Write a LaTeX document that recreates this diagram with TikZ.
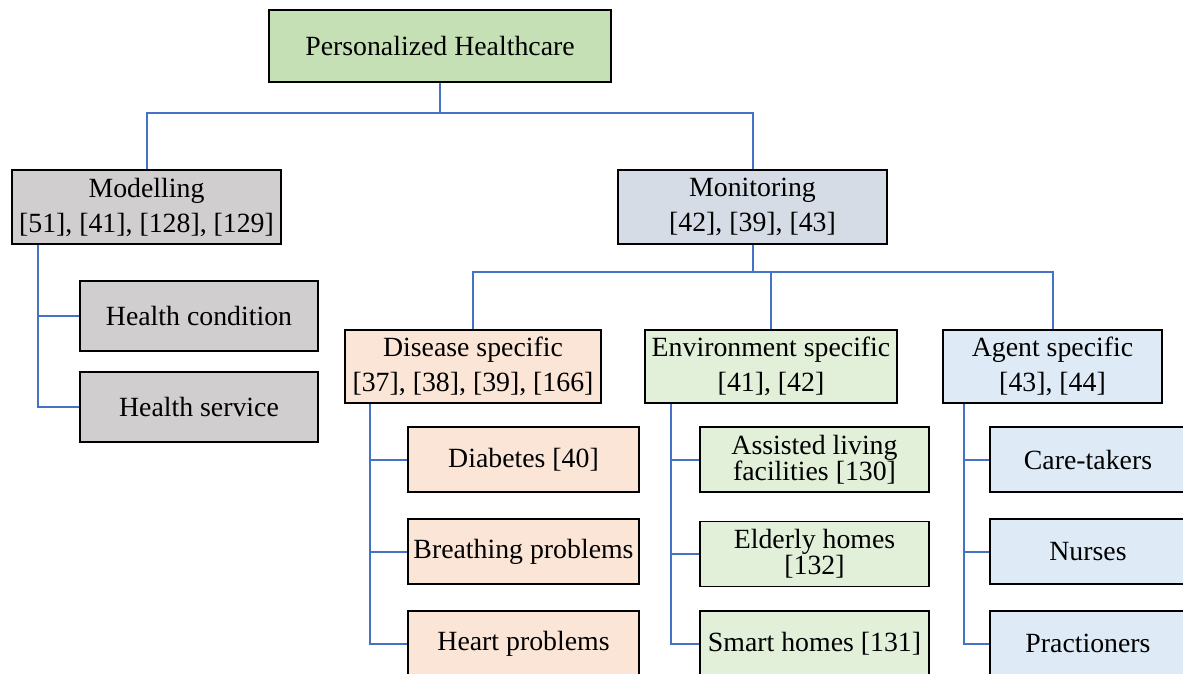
\documentclass[tikz,border=0pt]{standalone}
\usepackage{fontspec}
\setmainfont{Liberation Serif}
\definecolor{lnblue}{HTML}{4472C4}
\definecolor{rootgreen}{HTML}{C5E0B4}
\definecolor{modgray}{HTML}{D0CECE}
\definecolor{monblue}{HTML}{D6DCE5}
\definecolor{dispeach}{HTML}{FBE5D6}
\definecolor{envgreen}{HTML}{E2F0D9}
\definecolor{agblue}{HTML}{DEEBF7}
\begin{document}
\begin{tikzpicture}[x=1pt,y=-1pt,
  box/.style={draw=black, line width=1.6pt, inner sep=0pt, align=center,
    font=\fontsize{27.8}{35}\selectfont},
  link/.style={draw=lnblue, line width=2pt}]
\useasboundingbox (0,0) rectangle (1183,674);
\clip (0,0) rectangle (1183,674);
% top
\node[box, fill=rootgreen, minimum width=342, minimum height=72] (root) at (440,46) {Personalized Healthcare};
\node[box, fill=modgray, minimum width=269, minimum height=74] (model) at (146.5,207) {Modelling\\{}[51], [41], [128], [129]};
\node[box, fill=monblue, minimum width=269, minimum height=74] (monit) at (752.5,207) {Monitoring\\{}[42], [39], [43]};
% modelling children
\node[box, fill=modgray, minimum width=238, minimum height=70] (hc) at (199,316) {Health condition};
\node[box, fill=modgray, minimum width=238, minimum height=70] (hs) at (199,407) {Health service};
% monitoring children
\node[box, fill=dispeach, minimum width=256, minimum height=73] (dis) at (473,366.5) {Disease specific\\{}[37], [38], [39], [166]};
\node[box, fill=envgreen, minimum width=252, minimum height=73] (env) at (771,366.5) {Environment specific\\{}[41], [42]};
\node[box, fill=agblue, minimum width=219, minimum height=73] (ag) at (1052.5,366.5) {Agent specific\\{}[43], [44]};
% disease children
\node[box, fill=dispeach, minimum width=231, minimum height=65] (d1) at (523.5,459.5) {Diabetes [40]};
\node[box, fill=dispeach, minimum width=231, minimum height=65] (d2) at (523.5,551.5) {Breathing problems};
\node[box, fill=dispeach, minimum width=231, minimum height=65] (d3) at (523.5,643.5) {Heart problems};
% environment children
\node[box, fill=envgreen, minimum width=229, minimum height=65, font=\fontsize{27.8}{26}\selectfont] (e1) at (814.5,459.5) {Assisted living\\facilities [130]};
\node[box, fill=envgreen, minimum width=229, minimum height=65, font=\fontsize{27.8}{26}\selectfont] (e2) at (814.5,554) {Elderly homes\\{}[132]};
\node[box, fill=envgreen, minimum width=229, minimum height=65] (e3) at (814.5,643.5) {Smart homes [131]};
% agent children
\node[box, fill=agblue, minimum width=196, minimum height=65] (a1) at (1088,459.5) {Care-takers};
\node[box, fill=agblue, minimum width=196, minimum height=65] (a2) at (1088,551.5) {Nurses};
\node[box, fill=agblue, minimum width=196, minimum height=65] (a3) at (1088,643.5) {Practioners};
% connectors
\coordinate (rj) at ([yshift=-30pt]root.south);
\draw[link] (root.south) -- (rj) -| (model.north);
\draw[link] (rj) -| (monit.north);
\coordinate (mj) at ([yshift=-27pt]monit.south);
\draw[link] (monit.south) -- (mj) -| (dis.north);
\draw[link] (mj) -| (env.north);
\draw[link] (mj) -| (ag.north);
\coordinate (ms) at ([xshift=27pt]model.south west);
\draw[link] (ms) |- (hc.west);
\draw[link] (ms) |- (hs.west);
\coordinate (ds) at ([xshift=26pt]dis.south west);
\draw[link] (ds) |- (d1.west);
\draw[link] (ds) |- (d2.west);
\draw[link] (ds) |- (d3.west);
\coordinate (es) at ([xshift=27pt]env.south west);
\draw[link] (es) |- (e1.west);
\draw[link] (es) |- (e2.west);
\draw[link] (es) |- (e3.west);
\coordinate (as) at ([xshift=22pt]ag.south west);
\draw[link] (as) |- (a1.west);
\draw[link] (as) |- (a2.west);
\draw[link] (as) |- (a3.west);
\end{tikzpicture}
\end{document}
